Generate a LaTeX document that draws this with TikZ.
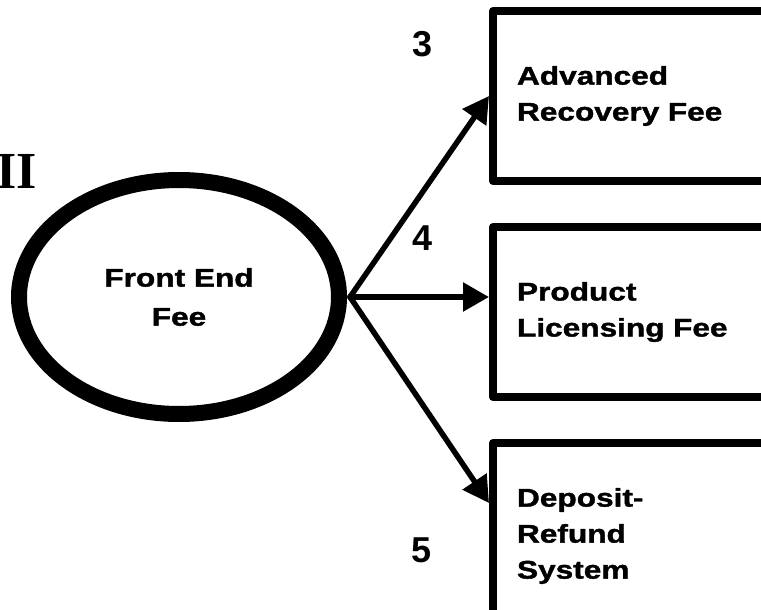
\documentclass[tikz,border=0pt]{standalone}
\usepackage{fontspec}
\setmainfont{Liberation Sans}
\newfontfamily\widesans[FakeStretch=1.24, FakeBold=1.5]{Liberation Sans}
\newfontfamily\romanfont{Liberation Serif}
\usetikzlibrary{positioning,shapes.geometric,arrows.meta}
\tikzset{
	feebox/.style={draw, line width=8pt, minimum height=170pt, text width=272pt, inner xsep=24pt, inner ysep=0pt, align=left, font=\widesans\bfseries\fontsize{25.5}{36}\selectfont},
	arr/.style={line width=5.5pt, -{Triangle[length=26pt,width=28pt]}},
	num/.style={font=\bfseries\fontsize{36}{36}\selectfont}
}
\begin{document}
\begin{tikzpicture}[x=1pt, y=-1pt, line join=round, line cap=round]
				\useasboundingbox (0,0) rectangle (761,610);
				\clip (0,0) rectangle (761,610);
				\node[draw, ellipse, line width=16pt, minimum width=320pt, minimum height=234pt, inner sep=0pt, align=center, font=\widesans\bfseries\fontsize{25.5}{39}\selectfont] (fee) at (179,297) {Front End\\Fee};
				\coordinate (fork) at ([xshift=3pt]fee.east);
				
				\node[feebox, anchor=north west] (adv) at (489,7) {Advanced\\Recovery Fee};
				\node[feebox, below=38pt of adv] (lic) {Product\\Licensing Fee};
				\node[feebox, below=38pt of lic, minimum height=186pt] (dep) {Deposit-\\Refund\\System};
				
				\draw[arr] (fork) -- (adv.west);
				\draw[arr] (fork) -- ([yshift=15pt]lic.west);
				\draw[arr] (fork) -- ([yshift=33pt]dep.west);
				
				%numbers of the fee types
				\node[num] (n3) at (423,44) {3};
				\node[num] (n4) at (423,238) {4};
				\node[num] (n5) at (422,550) {5};
				\node[anchor=base east, font=\romanfont\bfseries\fontsize{52}{52}\selectfont, inner sep=0pt] (part) at (37,188) {II};
			\end{tikzpicture}
\end{document}
